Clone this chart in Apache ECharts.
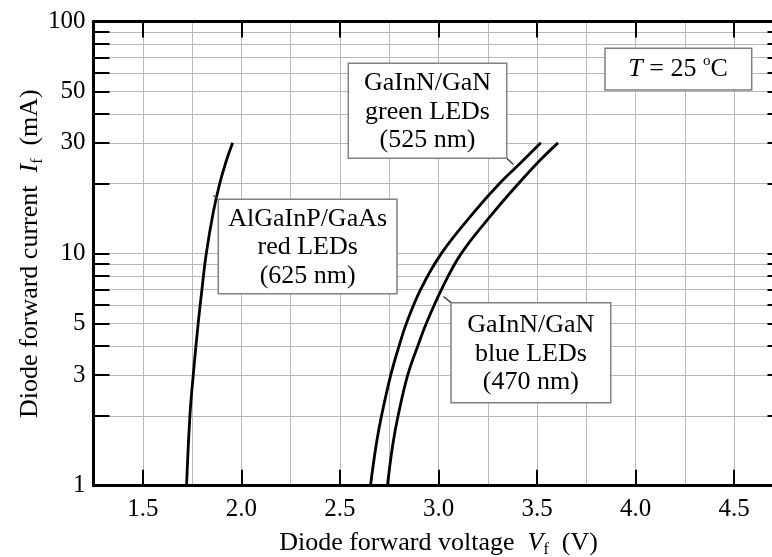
<!DOCTYPE html>
<html>
<head>
<meta charset="utf-8">
<script src="https://cdn.jsdelivr.net/npm/echarts@6/dist/echarts.min.js"></script>
<style>
  html, body { margin: 0; padding: 0; background: #fff; }
  #chart { width: 772px; height: 557px; }
</style>
</head>
<body>
<div id="chart"></div>
<script>
// [forward voltage (V), forward current (mA)]
const redLed = [[1.722, 1], [1.739, 2], [1.756, 3], [1.781, 5], [1.800, 7], [1.822, 10], [1.857, 15], [1.890, 20], [1.923, 25], [1.956, 30]]
const greenLed = [[2.655, 1], [2.684, 1.5], [2.711, 2], [2.758, 3], [2.800, 4], [2.837, 5], [2.909, 7], [3.014, 10], [3.178, 15], [3.308, 20], [3.425, 25], [3.519, 30]]
const blueLed = [[2.741, 1], [2.768, 1.5], [2.795, 2], [2.844, 3], [2.895, 4], [2.938, 5], [3.015, 7], [3.115, 10], [3.278, 15], [3.405, 20], [3.510, 25], [3.606, 30]]

const xTicks = [1.5, 2.0, 2.5, 3.0, 3.5, 4.0, 4.5]
const yTicks = [1, 2, 3, 4, 5, 6, 7, 8, 9, 10, 20, 30, 40, 50, 60, 70, 80, 90, 100]
const yLabels = [1, 3, 5, 10, 30, 50, 100]

const FONT = 'Liberation Serif'
const GRID_COLOR = '#b8b8b8'

const chart = echarts.init(document.getElementById('chart'))

// 轴名称用富文本：斜体变量 + 下标
const nameRich = {
  a: { fontFamily: FONT, fontSize: 26, lineHeight: 30, color: '#000' },
  i: { fontFamily: FONT, fontSize: 26, lineHeight: 30, fontStyle: 'italic', color: '#000' },
  s: { fontFamily: FONT, fontSize: 16, lineHeight: 16, verticalAlign: 'bottom', color: '#000' }
}

const baseX = { type: 'value', min: 1.25, max: 4.75, interval: 0.25 }
const baseY = { type: 'log', logBase: 10, min: 1, max: 100 }

const box = (x, y, w, h, lines) => ({
  type: 'group',
  z: 100,
  children: [
    { type: 'rect', z: 100, shape: { x, y, width: w, height: h }, style: { fill: '#fff', stroke: '#808080', lineWidth: 1.5 } },
    {
      type: 'text',
      z: 101,
      x: x + w / 2,
      y: y + h / 2 + 1,
      style: { text: lines, fill: '#000', font: '26px "' + FONT + '"', align: 'center', verticalAlign: 'middle', lineHeight: 28.5 }
    }
  ]
})

const leader = (x1, y1, x2, y2) => ({
  type: 'line',
  z: 100,
  shape: { x1, y1, x2, y2 },
  style: { stroke: '#404040', lineWidth: 1.5 }
})

const curve = (name, data) => ({
  name, type: 'line', data, smooth: 0.4, showSymbol: false, z: 3,
  lineStyle: { color: '#000', width: 2.8 }
})

chart.setOption({
  animation: false,
  textStyle: { fontFamily: FONT },
  grid: { left: 93.5, right: -11.5, top: 21.5, bottom: 71.3, containLabel: false, outerBoundsMode: 'none' },
  xAxis: [
    {
      ...baseX,
      position: 'bottom',
      axisLine: { lineStyle: { color: '#000', width: 3 } },
      axisTick: { show: false },
      axisLabel: { customValues: xTicks, formatter: (v) => v.toFixed(1), fontSize: 25, color: '#000', margin: 11 },
      splitLine: { show: true, lineStyle: { color: GRID_COLOR, width: 1 } },
      name: '{a|Diode forward voltage  }{i|V}{s|f}{a|  (V)}',
      nameLocation: 'middle',
      nameGap: 42,
      nameTextStyle: { rich: nameRich }
    },
    {
      ...baseX,
      position: 'bottom',
      axisLine: { show: false },
      axisTick: { show: true, customValues: xTicks, inside: true, length: 16, lineStyle: { color: '#000', width: 2 } },
      axisLabel: { show: false },
      splitLine: { show: false }
    },
    {
      ...baseX,
      position: 'top',
      axisLine: { lineStyle: { color: '#000', width: 3 } },
      axisTick: { show: true, customValues: xTicks, inside: true, length: 16, lineStyle: { color: '#000', width: 2 } },
      axisLabel: { show: false },
      splitLine: { show: false }
    }
  ],
  yAxis: [
    {
      ...baseY,
      position: 'left',
      axisLine: { lineStyle: { color: '#000', width: 3 } },
      axisTick: { show: true, customValues: yTicks, inside: true, length: 16, lineStyle: { color: '#000', width: 2 } },
      axisLabel: { customValues: yLabels, fontSize: 25, color: '#000', margin: 8 },
      splitLine: { show: true, lineStyle: { color: GRID_COLOR, width: 1 } },
      minorTick: { show: false },
      name: '{a|Diode forward current  }{i|I}{s|f}{a|  (mA)}',
      nameLocation: 'middle',
      nameRotate: 90,
      nameGap: 48,
      nameMoveOverlap: false,
      nameTextStyle: { rich: nameRich }
    },
    {
      ...baseY,
      position: 'right',
      axisLine: { lineStyle: { color: '#000', width: 3 } },
      axisTick: { show: true, customValues: yTicks, inside: true, length: 16, lineStyle: { color: '#000', width: 2 } },
      axisLabel: { show: false },
      splitLine: { show: false }
    }
  ],
  series: [
    curve('red', redLed),
    curve('green', greenLed),
    curve('blue', blueLed)
  ],
  graphic: {
    elements: [
      leader(218.3, 199.3, 213.5, 195.5),
      leader(506.7, 158.3, 513.5, 164.5),
      leader(451, 302.7, 443.5, 296.5),
      box(218.3, 199.3, 178.7, 94.5, 'AlGaInP/GaAs\nred LEDs\n(625 nm)'),
      box(348.3, 63.3, 158.4, 95, 'GaInN/GaN\ngreen LEDs\n(525 nm)'),
      box(451, 302.7, 159.7, 100, 'GaInN/GaN\nblue LEDs\n(470 nm)'),
      {
        type: 'group',
        z: 100,
        children: [
          { type: 'rect', z: 100, shape: { x: 605, y: 48.3, width: 146.7, height: 41.7 }, style: { fill: '#fff', stroke: '#808080', lineWidth: 1.5 } },
          {
            type: 'text',
            z: 101,
            x: 678,
            y: 69,
            style: {
              text: '{i|T} = 25 {o|o}C',
              fill: '#000',
              font: '26px "' + FONT + '"',
              align: 'center',
              verticalAlign: 'middle',
              rich: {
                i: { fontFamily: FONT, fontSize: 26, fontStyle: 'italic', lineHeight: 30 },
                o: { fontFamily: FONT, fontSize: 15, lineHeight: 30, verticalAlign: 'top', padding: [0, 0, 10, 0] }
              }
            }
          }
        ]
      }
    ]
  }
})

window.addEventListener('resize', () => chart.resize())
</script>
</body>
</html>
